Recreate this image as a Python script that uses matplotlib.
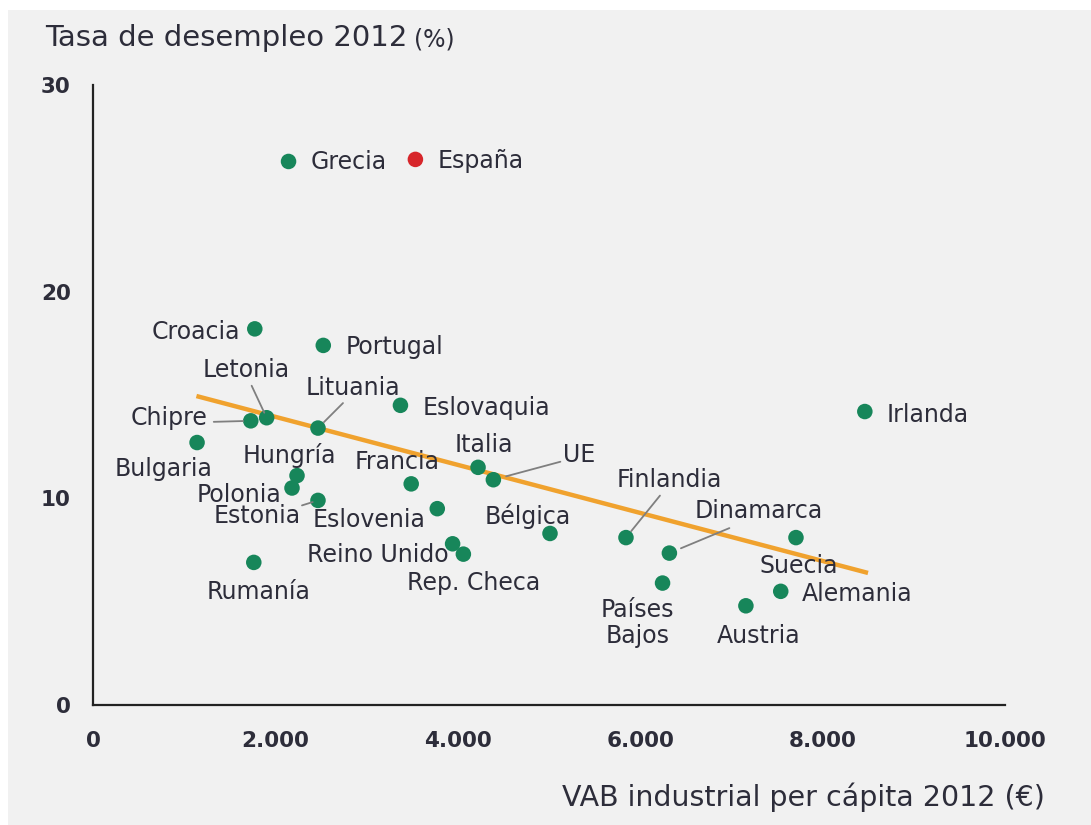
import matplotlib
matplotlib.use("Agg")
import matplotlib.pyplot as plt
from matplotlib.patches import Rectangle

# data
countries = ["Grecia", "España", "Croacia", "Portugal", "Letonia", "Lituania",
             "Eslovaquia", "Irlanda", "Chipre", "Bulgaria", "Hungría", "Francia",
             "Italia", "UE", "Polonia", "Estonia", "Eslovenia", "Reino Unido",
             "Rep. Checa", "Rumanía", "Bélgica", "Finlandia", "Dinamarca",
             "Suecia", "Alemania", "Países\nBajos", "Austria"]
vab = [2144, 3535, 1774, 2525, 1904, 2467,
       3371, 8463, 1730, 1141, 2237, 3489,
       4222, 4390, 2182, 2467, 3775, 3943,
       4061, 1763, 5011, 5844, 6320,
       7708, 7541, 6245, 7159]
paro = [26.3, 26.4, 18.2, 17.4, 13.9, 13.4,
        14.5, 14.2, 13.75, 12.7, 11.1, 10.7,
        11.5, 10.9, 10.5, 9.9, 9.5, 7.8,
        7.3, 6.9, 8.3, 8.1, 7.35,
        8.1, 5.5, 5.9, 4.8]
trend_x = [1134, 8498]
trend_y = [14.95, 6.39]

# label placement: (dx, dy) pixels from the dot (y up), alignment
label_pos = {
    "Grecia": (22, -1, "left"), "España": (22, -2, "left"),
    "Croacia": (-15, -3, "right"), "Portugal": (22, -2, "left"),
    "Letonia": (-20, 48, "center"), "Lituania": (35, 40, "center"),
    "Eslovaquia": (22, -3, "left"), "Irlanda": (22, -3, "left"),
    "Chipre": (-43, 3, "right"), "Bulgaria": (-33, -26, "center"),
    "Hungría": (-8, 20, "center"), "Francia": (-14, 22, "center"),
    "Italia": (6, 22, "center"), "UE": (70, 25, "left"),
    "Polonia": (-11, -7, "right"), "Estonia": (-17, -16, "right"),
    "Eslovenia": (-12, -11, "right"), "Reino Unido": (-4, -11, "right"),
    "Rep. Checa": (10, -29, "center"), "Rumanía": (5, -30, "center"),
    "Bélgica": (-22, 17, "center"), "Finlandia": (43, 58, "center"),
    "Dinamarca": (89, 42, "center"), "Suecia": (3, -28, "center"),
    "Alemania": (21, -3, "left"), "Países\nBajos": (-25, -40, "center"),
    "Austria": (13, -30, "center"),
}
# leader lines: start offset from the dot (pixels), gap at the dot (points)
leaders = {
    "Letonia": (-15, 32, 4), "Lituania": (25, 25, 6), "Chipre": (-37, -1, 5.5),
    "UE": (67, 18, 9.5), "Finlandia": (34, 42, 6), "Dinamarca": (60, 25, 9),
    "Estonia": (-16, -5, 4),
}

txt_color = "#2d2d3a"
green = "#17865a"
red = "#d7262b"
orange = "#f0a22e"
font = "DejaVu Sans"

fig = plt.figure(figsize=(10.91, 8.25), dpi=100, facecolor="white")
fig.patches.append(Rectangle((8 / 1091, 0), 1, 1 - 10 / 825, transform=fig.transFigure,
                             facecolor="#f1f1f1", edgecolor="none", zorder=-10))
ax = fig.add_axes([93 / 1091, 120 / 825, 912 / 1091, 620 / 825])
ax.set_facecolor("none")

ax.plot(trend_x, trend_y, color=orange, lw=3.2, solid_capstyle="butt", zorder=2)

colors = [red if c == "España" else green for c in countries]
ax.scatter(vab, paro, s=125, c=colors, edgecolors="none", zorder=3)

for name, x, y in zip(countries, vab, paro):
    dx, dy, ha = label_pos[name]
    ax.annotate(name, (x, y), xytext=(dx, dy), textcoords="offset pixels",
                ha=ha, va="center", fontsize=17, color=txt_color, family=font,
                linespacing=1.15, zorder=4)
    if name in leaders:
        sx, sy, gap = leaders[name]
        ax.annotate("", (x, y), xytext=(sx, sy), textcoords="offset pixels",
                    arrowprops=dict(arrowstyle="-", color="#7f7f7f", lw=1.3,
                                    shrinkA=0, shrinkB=gap))

ax.set_xlim(0, 10000)
ax.set_ylim(0, 30)
ax.set_xticks([0, 2000, 4000, 6000, 8000, 10000])
ax.set_xticklabels(["0", "2.000", "4.000", "6.000", "8.000", "10.000"])
ax.set_yticks([0, 10, 20, 30])
ax.tick_params(length=0, labelsize=15.5, labelcolor=txt_color)
ax.tick_params(axis="x", pad=19)
ax.tick_params(axis="y", pad=16)
for lab in ax.get_xticklabels() + ax.get_yticklabels():
    lab.set_fontweight("bold")
    lab.set_family(font)

for side in ["top", "right"]:
    ax.spines[side].set_visible(False)
for side in ["left", "bottom"]:
    ax.spines[side].set_color("#222222")
    ax.spines[side].set_linewidth(1.6)

title = fig.text(45 / 1091, 1 - 46 / 825, "Tasa de desempleo 2012", fontsize=21,
                 color=txt_color, family=font, va="baseline", ha="left")
ax.annotate("(%)", xy=(1, 0), xycoords=title, xytext=(7, 0), textcoords="offset pixels",
            fontsize=17, color=txt_color, family=font, va="bottom", ha="left",
            annotation_clip=False)
fig.text(1045 / 1091, 1 - 797 / 825, "VAB industrial per cápita 2012 (€)", fontsize=20.5,
         color=txt_color, family=font, va="center", ha="right")

fig.savefig("out.png", dpi=100)
